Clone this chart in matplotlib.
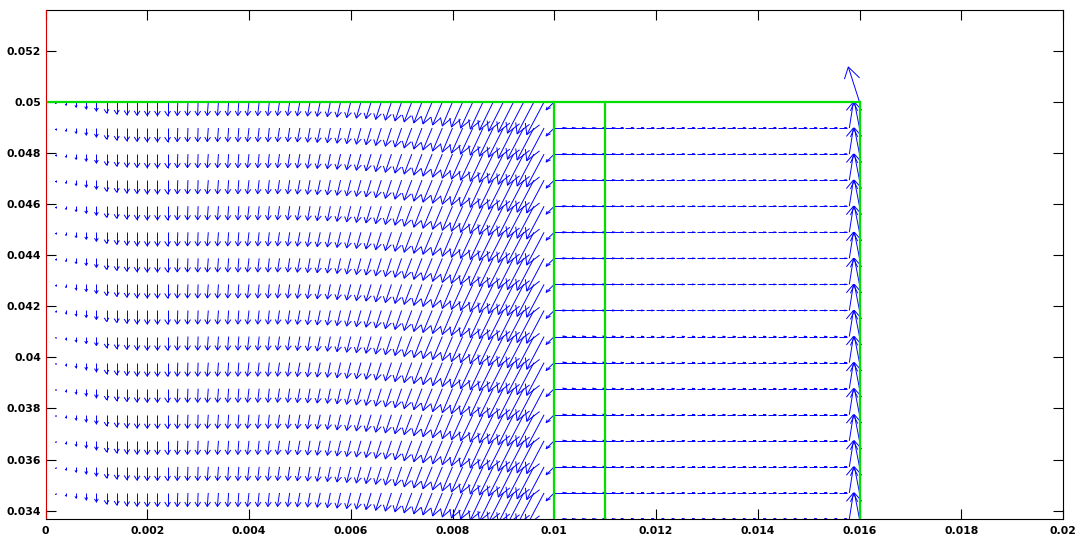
import numpy as np
import matplotlib
matplotlib.use("Agg")
import matplotlib.pyplot as plt
from matplotlib.collections import LineCollection
from matplotlib.ticker import FuncFormatter

# ---- grid -------------------------------------------------------------
row_step = 0.05 / 49                     # vertical node spacing
n_rows = 17                              # rows visible from y = 0.05 downward
col_step = 0.0002                        # horizontal node spacing
left_x0, left_cols = 0.0, 51             # region 0 .. 0.01
right_x0, right_cols = 0.01, 31          # region 0.01 .. 0.016

# ---- velocity profiles (units of 1e-4, already scaled for display) -----
# left region: each column, identical on every row
left_u = [0, 0, 0, 0, 0, 0, 0, 0, 0, 0,
          0, 0, 0, -0.1, -0.1, -0.1, -0.2, -0.2, -0.2, -0.2,
          -0.3, -0.3, -0.3, -0.4, -0.4, -0.5, -0.5, -0.6, -0.6, -0.7,
          -0.8, -0.9, -1.0, -1.1, -1.2, -1.3, -1.5, -1.6, -1.8, -1.9,
          -2.0, -2.2, -2.4, -2.5, -2.7, -2.9, -3.0, -3.2, -3.3, -3.4,
          -1.6]
left_v = [-0.2, -0.6, -1.2, -2.0, -2.7, -3.5, -4.3, -4.7, -5.0, -5.2,
          -5.3, -5.3, -5.3, -5.3, -5.3, -5.3, -5.3, -5.3, -5.3, -5.3,
          -5.3, -5.3, -5.3, -5.3, -5.3, -5.4, -5.5, -5.6, -5.7, -5.9,
          -6.1, -6.3, -6.5, -6.8, -7.1, -7.4, -7.8, -8.2, -8.6, -9.0,
          -9.4, -9.8, -10.2, -10.6, -11.0, -11.4, -11.8, -12.2, -12.5, -12.8,
          -3.1]

# right region: each column on the interior rows
right_u = [2.4, 2.2, 2.2, 2.2, 2.2, 2.0, 1.6, 1.6, 1.6, 1.6,
           1.6, 1.6, 1.6, 1.6, 1.6, 1.6, 1.6, 1.6, 1.6, 1.6,
           1.6, 1.6, 1.6, 1.6, 1.6, 1.6, 1.6, 1.6, 1.5, 0.8,
           -1.0]
right_v = [0, 0, 0, 0, 0, 0, 0, 0, 0, 0,
           0, 0, 0, 0, 0, 0, 0, 0, 0, 0,
           0, 0, 0, 0, 0, 0, 0, 0, 0, 10.2,
           10.2]
# right region: top row (y = 0.05)
right_top_u = [2.0, 2.0, 2.0, 2.0, 2.0, 2.0, 1.7, 1.6, 1.6, 1.5,
               1.5, 1.4, 1.4, 1.3, 1.2, 1.0, 0.8, 0.6, 0.4, 0.3,
               0.2, 0.1, 0.05, 0.05, 0.05, 0, 0, 0, 0, 0,
               -2.2]
right_top_v = [0, 0, 0, 0, 0, 0, 0, 0, 0, 0,
               0, 0, 0, 0, 0, 0, 0, 0, 0, 0,
               0, 0, 0, 0, 0, 0, 0, 0, 0, 0,
               13.7]

# region outlines
top_wall_y = 0.05
top_wall_x = (0.0, 0.016)
divider_x = [0.01, 0.011, 0.016]
inlet_x = 0.0

x_ticks = [0, 0.002, 0.004, 0.006, 0.008, 0.01, 0.012, 0.014, 0.016, 0.018, 0.02]
y_ticks = [0.034, 0.036, 0.038, 0.04, 0.042, 0.044, 0.046, 0.048, 0.05, 0.052]
x_lim = (0.0, 0.02)
y_lim = (0.05 - 16 * 0.05 / 49, 0.05362)

ALPHA, BETA = 0.33, 0.33   # arrow-head length / width relative to the vector


def arrow_segments(xs, ys, us, vs):
    """Shaft plus open head for every vector (quiver-style geometry)."""
    segs = []
    for x, y, u, v in zip(xs, ys, us, vs):
        tx, ty = x + u, y + v
        segs.append([(x, y), (tx, ty)])
        if u == 0 and v == 0:
            continue
        h1 = (tx - ALPHA * (u + BETA * v), ty - ALPHA * (v - BETA * u))
        h2 = (tx - ALPHA * (u - BETA * v), ty - ALPHA * (v + BETA * u))
        segs.append([h1, (tx, ty), h2])
    return segs


rows = 0.05 - row_step * np.arange(n_rows)
lx = left_x0 + col_step * np.arange(left_cols)
rx = right_x0 + col_step * np.arange(right_cols)

segs = []
for k, y in enumerate(rows):
    segs += arrow_segments(lx, np.full(left_cols, y),
                           np.array(left_u) * 1e-4, np.array(left_v) * 1e-4)
    if k == 0:
        ru, rv = right_top_u, right_top_v
    else:
        ru, rv = right_u, right_v
    segs += arrow_segments(rx, np.full(right_cols, y),
                           np.array(ru) * 1e-4, np.array(rv) * 1e-4)

fig = plt.figure(figsize=(10.81, 5.40), dpi=100)
ax = fig.add_axes([45.5 / 1081, 21 / 540, (1063 - 45.5) / 1081, (519 - 9.5) / 540])

ax.add_collection(LineCollection(segs, colors="#0000ff", linewidths=0.7, zorder=3))

ax.plot(top_wall_x, [top_wall_y, top_wall_y], color="#00e000", lw=1.6, zorder=4)
for xd in divider_x:
    ax.plot([xd, xd], [y_lim[0] - 0.001, top_wall_y], color="#00e000", lw=1.6, zorder=4)
ax.plot([inlet_x, inlet_x], [y_lim[0] - 0.001, y_lim[1] + 0.001], color="#ff0000",
        lw=1.2, zorder=5)

ax.set_xlim(*x_lim)
ax.set_ylim(*y_lim)
ax.set_xticks(x_ticks)
ax.set_yticks(y_ticks)
fmt = FuncFormatter(lambda v, p: f"{v:g}")
ax.xaxis.set_major_formatter(fmt)
ax.yaxis.set_major_formatter(fmt)
ax.tick_params(direction="in", length=7, width=0.8, top=True, right=True,
               labelsize=7.8)
ax.tick_params(axis="y", pad=3)
ax.tick_params(axis="x", pad=5)
for lab in ax.get_xticklabels() + ax.get_yticklabels():
    lab.set_fontfamily("DejaVu Sans")
    lab.set_fontweight("bold")
for s in ax.spines.values():
    s.set_linewidth(0.8)

fig.savefig("out.png", dpi=100)
